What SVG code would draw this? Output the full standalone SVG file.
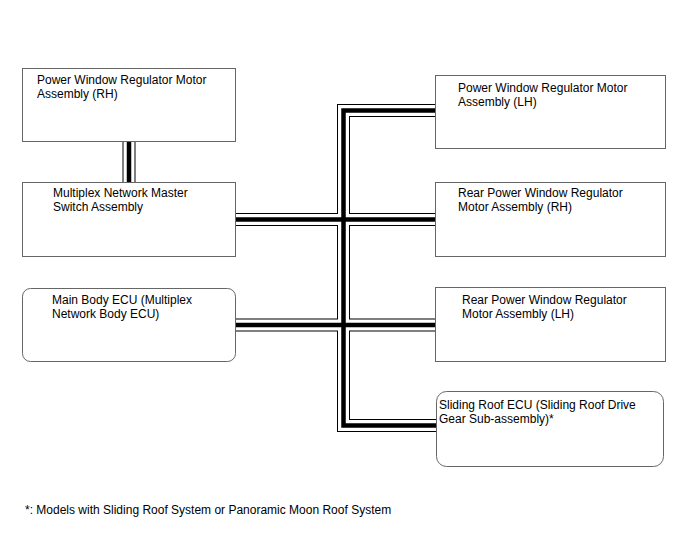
<svg xmlns="http://www.w3.org/2000/svg" xmlns:xlink="http://www.w3.org/1999/xlink" width="688" height="560" viewBox="0 0 688 560">
<style>
.box{fill:#fff;stroke:#666;stroke-width:1}
.t{font-family:"Liberation Sans",Arial,sans-serif;font-size:12px;fill:#000}
.w1{fill:none;stroke:#000;stroke-width:13;stroke-linejoin:miter;stroke-linecap:butt}
.w2{fill:none;stroke:#fff;stroke-width:11;stroke-linejoin:miter;stroke-linecap:butt}
.w3{fill:none;stroke:#000;stroke-width:4.5;stroke-linejoin:miter;stroke-linecap:butt}
</style>
<defs>
<g id="wires">
<path d="M435,110.5 H343.5 V425.5 H436"/>
<path d="M236,219.5 H435"/>
<path d="M236,325 H435"/>
<path d="M129,142 V182"/>
</g>
</defs>
<rect width="688" height="560" fill="#fff"/>
<g id="connectors">
<use xlink:href="#wires" class="w1"/>
<use xlink:href="#wires" class="w2"/>
<use xlink:href="#wires" class="w3"/>
</g>
<g id="pw-rh">
<rect class="box" x="22.5" y="68.5" width="213" height="73"/>
<text class="t" x="37" y="84">Power Window Regulator Motor</text>
<text class="t" x="37" y="98">Assembly (RH)</text>
</g>
<g id="master-switch">
<rect class="box" x="22.5" y="182.5" width="213" height="74"/>
<text class="t" x="53" y="197">Multiplex Network Master</text>
<text class="t" x="53" y="211">Switch Assembly</text>
</g>
<g id="main-body-ecu">
<rect class="box" x="22.5" y="288.5" width="213" height="73" rx="8"/>
<text class="t" x="52" y="304">Main Body ECU (Multiplex</text>
<text class="t" x="52" y="318">Network Body ECU)</text>
</g>
<g id="pw-lh">
<rect class="box" x="435.5" y="75.5" width="230" height="73"/>
<text class="t" x="458" y="92">Power Window Regulator Motor</text>
<text class="t" x="458" y="106">Assembly (LH)</text>
</g>
<g id="rear-pw-rh">
<rect class="box" x="435.5" y="182.5" width="230" height="74"/>
<text class="t" x="458" y="197">Rear Power Window Regulator</text>
<text class="t" x="458" y="211">Motor Assembly (RH)</text>
</g>
<g id="rear-pw-lh">
<rect class="box" x="435.5" y="287.5" width="230" height="74"/>
<text class="t" x="462" y="304">Rear Power Window Regulator</text>
<text class="t" x="462" y="318">Motor Assembly (LH)</text>
</g>
<g id="sliding-roof-ecu">
<rect class="box" x="436.5" y="391.5" width="227" height="75" rx="10"/>
<text class="t" x="439" y="409">Sliding Roof ECU (Sliding Roof Drive</text>
<text class="t" x="439" y="423">Gear Sub-assembly)*</text>
</g>
<text class="t" x="25" y="514">*: Models with Sliding Roof System or Panoramic Moon Roof System</text>
</svg>
